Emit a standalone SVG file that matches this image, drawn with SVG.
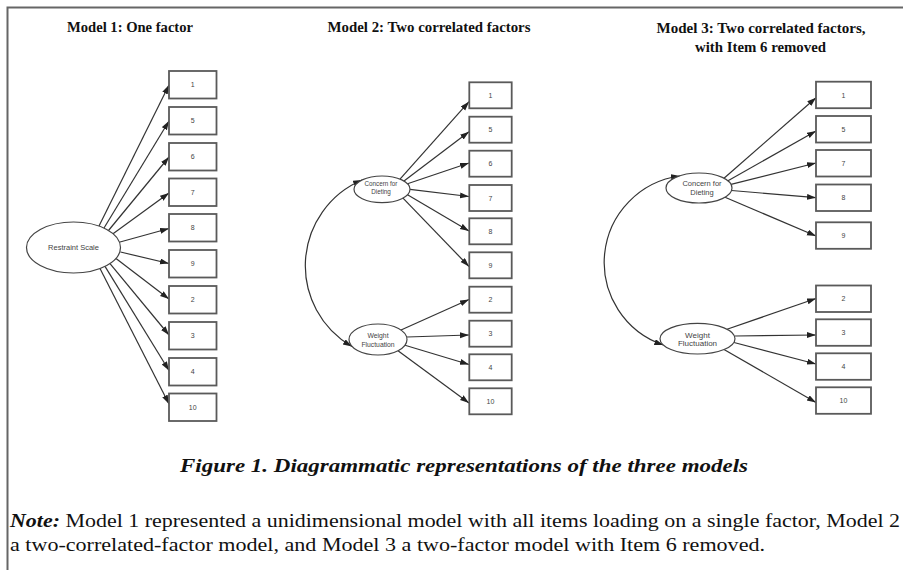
<svg xmlns="http://www.w3.org/2000/svg" width="903" height="573" viewBox="0 0 903 573">
<defs>
<marker id="ah" markerUnits="userSpaceOnUse" markerWidth="10" markerHeight="7" refX="9" refY="3" orient="auto-start-reverse"><path d="M0,0 L9,3 L0,6 z" fill="#222"/></marker>
<style>
.title{font-family:"Liberation Serif","Times New Roman",serif;font-weight:bold;font-size:13.8px;fill:#111;text-anchor:middle}
.box rect{fill:#fff;stroke:#5a5a5a;stroke-width:1.8}
.box text{font-family:"Liberation Sans",Arial,sans-serif;font-size:7px;fill:#444;text-anchor:middle}
.lat ellipse{fill:#fff;stroke:#444;stroke-width:1.2}
.lat text{font-family:"Liberation Sans",Arial,sans-serif;fill:#444;text-anchor:middle}
.conn line,.conn path{stroke:#333;stroke-width:1.2;fill:none;marker-end:url(#ah)}
.conn path.cov{marker-start:url(#ah)}
.cap{font-family:"Liberation Serif","Times New Roman",serif;font-weight:bold;font-style:italic;font-size:19.5px;fill:#111;text-anchor:middle}
.note{font-family:"Liberation Serif","Times New Roman",serif;font-size:19.5px;fill:#111}
</style>
</defs>
<rect width="903" height="573" fill="#fff"/>
<g id="frame" stroke="#666" stroke-width="2" fill="none"><path d="M7.5 570 V7.5 H903"/></g>

<text class="title" x="130" y="32" textLength="126" lengthAdjust="spacingAndGlyphs">Model 1: One factor</text>
<text class="title" x="429" y="32" textLength="203" lengthAdjust="spacingAndGlyphs">Model 2: Two correlated factors</text>
<text class="title" x="761" y="33" textLength="209" lengthAdjust="spacingAndGlyphs">Model 3: Two correlated factors,</text>
<text class="title" x="760.5" y="51.5" textLength="131" lengthAdjust="spacingAndGlyphs">with Item 6 removed</text>

<g class="conn" id="connectors">
<line x1="99" y1="226" x2="169" y2="85"/>
<line x1="104" y1="228" x2="169" y2="121"/>
<line x1="108.5" y1="230.5" x2="169" y2="157"/>
<line x1="113" y1="233.7" x2="169" y2="193"/>
<line x1="120" y1="242" x2="169" y2="228.5"/>
<line x1="120.5" y1="252" x2="169" y2="263.5"/>
<line x1="116" y1="258.4" x2="169" y2="299"/>
<line x1="110" y1="263.6" x2="169" y2="335"/>
<line x1="105" y1="266.4" x2="169" y2="370.5"/>
<line x1="100" y1="268.6" x2="169" y2="404"/>

<line x1="400" y1="179.1" x2="469" y2="101.7"/>
<line x1="404" y1="181.1" x2="469" y2="131.7"/>
<line x1="407.5" y1="183.8" x2="469" y2="163"/>
<line x1="410" y1="189.3" x2="469" y2="196.5"/>
<line x1="407.5" y1="194.8" x2="469" y2="231"/>
<line x1="403" y1="198.1" x2="469" y2="266.5"/>
<line x1="401" y1="330" x2="469" y2="299.5"/>
<line x1="407" y1="337" x2="469" y2="335"/>
<line x1="405" y1="345.2" x2="469" y2="364.5"/>
<line x1="398" y1="350.7" x2="469" y2="403"/>
<path class="cov" d="M362 180 A93.2 93.2 0 0 0 352 346.5"/>

<line x1="724" y1="178.2" x2="816" y2="97.7"/>
<line x1="728" y1="180.8" x2="816" y2="131"/>
<line x1="731" y1="184.3" x2="816" y2="163"/>
<line x1="731.5" y1="190.5" x2="816" y2="197.7"/>
<line x1="725" y1="197.2" x2="816" y2="236"/>
<line x1="727" y1="329.3" x2="816" y2="298.5"/>
<line x1="735" y1="336" x2="816" y2="335"/>
<line x1="734" y1="342.5" x2="816" y2="364"/>
<line x1="724" y1="349.5" x2="816" y2="402.5"/>
<path class="cov" d="M680 176 A87.2 87.2 0 0 0 663.3 345"/>
</g>

<g class="lat" id="m1-restraint"><ellipse cx="73.5" cy="247.5" rx="47" ry="25.5"/><text x="73.5" y="250" font-size="7.5">Restraint Scale</text></g>
<g class="lat" id="m2-concern"><ellipse cx="382" cy="189.3" rx="28" ry="13.3"/><text x="381" y="185.5" font-size="6.3">Concern for</text><text x="381" y="194" font-size="6.3">Dieting</text></g>
<g class="lat" id="m2-weight"><ellipse cx="378" cy="339.5" rx="29" ry="15.5"/><text x="378" y="338" font-size="6.8">Weight</text><text x="378" y="346.5" font-size="6.8">Fluctuation</text></g>
<g class="lat" id="m3-concern"><ellipse cx="699" cy="188" rx="33" ry="15"/><text x="702" y="185.5" font-size="7.5">Concern for</text><text x="702" y="194.5" font-size="7.5">Dieting</text></g>
<g class="lat" id="m3-weight"><ellipse cx="697.5" cy="338.7" rx="37.5" ry="15.3"/><text x="697.5" y="337.5" font-size="8">Weight</text><text x="697.5" y="346" font-size="8">Fluctuation</text></g>

<g class="box" id="m1-i1"><rect x="169" y="71" width="47.5" height="27.5"/><text x="192.75" y="87.3">1</text></g>
<g class="box" id="m1-i5"><rect x="169" y="107" width="47.5" height="27.5"/><text x="192.75" y="123.3">5</text></g>
<g class="box" id="m1-i6"><rect x="169" y="143" width="47.5" height="27.5"/><text x="192.75" y="159.3">6</text></g>
<g class="box" id="m1-i7"><rect x="169" y="178.5" width="47.5" height="27.5"/><text x="192.75" y="194.8">7</text></g>
<g class="box" id="m1-i8"><rect x="169" y="214" width="47.5" height="27.5"/><text x="192.75" y="230.3">8</text></g>
<g class="box" id="m1-i9"><rect x="169" y="250" width="47.5" height="27.5"/><text x="192.75" y="266.3">9</text></g>
<g class="box" id="m1-i2"><rect x="169" y="286" width="47.5" height="27.5"/><text x="192.75" y="302.3">2</text></g>
<g class="box" id="m1-i3"><rect x="169" y="322" width="47.5" height="27.5"/><text x="192.75" y="338.3">3</text></g>
<g class="box" id="m1-i4"><rect x="169" y="358" width="47.5" height="27.5"/><text x="192.75" y="374.3">4</text></g>
<g class="box" id="m1-i10"><rect x="169" y="393.5" width="47.5" height="27.5"/><text x="192.75" y="409.8">10</text></g>

<g class="box" id="m2-i1"><rect x="469.3" y="82.3" width="42.4" height="26"/><text x="490.5" y="97.8">1</text></g>
<g class="box" id="m2-i5"><rect x="469.3" y="116.7" width="42.4" height="26"/><text x="490.5" y="132.2">5</text></g>
<g class="box" id="m2-i6"><rect x="469.3" y="150.7" width="42.4" height="26"/><text x="490.5" y="166.2">6</text></g>
<g class="box" id="m2-i7"><rect x="469.3" y="185" width="42.4" height="26"/><text x="490.5" y="200.5">7</text></g>
<g class="box" id="m2-i8"><rect x="469.3" y="218.3" width="42.4" height="26"/><text x="490.5" y="233.8">8</text></g>
<g class="box" id="m2-i9"><rect x="469.3" y="252.3" width="42.4" height="26"/><text x="490.5" y="267.8">9</text></g>
<g class="box" id="m2-i2"><rect x="469.3" y="286.7" width="42.4" height="26"/><text x="490.5" y="302.2">2</text></g>
<g class="box" id="m2-i3"><rect x="469.3" y="320.7" width="42.4" height="26"/><text x="490.5" y="336.2">3</text></g>
<g class="box" id="m2-i4"><rect x="469.3" y="354.3" width="42.4" height="26"/><text x="490.5" y="369.8">4</text></g>
<g class="box" id="m2-i10"><rect x="469.3" y="388.3" width="42.4" height="26"/><text x="490.5" y="403.8">10</text></g>

<g class="box" id="m3-i1"><rect x="816" y="81.7" width="55" height="26.5"/><text x="843.5" y="97.5">1</text></g>
<g class="box" id="m3-i5"><rect x="816" y="116" width="55" height="26.5"/><text x="843.5" y="131.8">5</text></g>
<g class="box" id="m3-i7"><rect x="816" y="150" width="55" height="26.5"/><text x="843.5" y="165.8">7</text></g>
<g class="box" id="m3-i8"><rect x="816" y="184.5" width="55" height="26.5"/><text x="843.5" y="200.3">8</text></g>
<g class="box" id="m3-i9"><rect x="816" y="222.3" width="55" height="26.5"/><text x="843.5" y="238.1">9</text></g>
<g class="box" id="m3-i2"><rect x="816" y="285.5" width="55" height="26.5"/><text x="843.5" y="301.3">2</text></g>
<g class="box" id="m3-i3"><rect x="816" y="319.3" width="55" height="26.5"/><text x="843.5" y="335.1">3</text></g>
<g class="box" id="m3-i4"><rect x="816" y="353.3" width="55" height="26.5"/><text x="843.5" y="369.1">4</text></g>
<g class="box" id="m3-i10"><rect x="816" y="387.3" width="55" height="26.5"/><text x="843.5" y="403.1">10</text></g>

<text class="cap" x="464" y="471.5" textLength="568" lengthAdjust="spacingAndGlyphs">Figure 1. Diagrammatic representations of the three models</text>
<text class="note" x="10" y="527" textLength="890" lengthAdjust="spacingAndGlyphs"><tspan font-weight="bold" font-style="italic">Note:</tspan> Model 1 represented a unidimensional model with all items loading on a single factor, Model 2</text>
<text class="note" x="10" y="551" textLength="755" lengthAdjust="spacingAndGlyphs">a two-correlated-factor model, and Model 3 a two-factor model with Item 6 removed.</text>
</svg>
